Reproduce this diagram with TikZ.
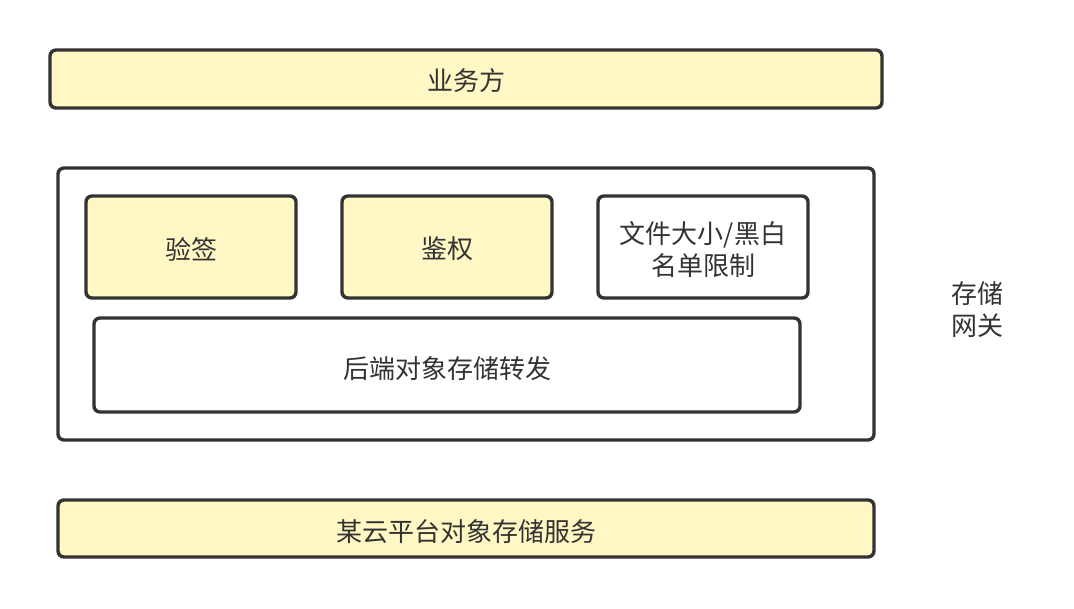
\documentclass[tikz,border=0pt]{standalone}
\usepackage{fontspec}
\newfontfamily\cjk{Noto Sans CJK SC}
\definecolor{boxfill}{HTML}{FFF7C4}
\definecolor{stroke}{HTML}{333333}
\begin{document}
\begin{tikzpicture}[x=1pt,y=-1pt,
  box/.style={draw=stroke,line width=3.4pt,rounded corners=6pt,fill=white},
  ybox/.style={box,fill=boxfill},
  lbl/.style={font=\cjk\fontsize{26}{32}\selectfont,text=stroke,align=center}]
\useasboundingbox (0,0) rectangle (1074,608);
\draw[ybox] (50,50) rectangle (882,108);
\node[lbl] (ywf) at (466,81) {业务方};
\draw[box] (58,168) rectangle (874,440);
\draw[ybox] (86,196) rectangle (296,298);
\node[lbl] (yq) at (191,249) {验签};
\draw[ybox] (342,196) rectangle (552,298);
\node[lbl] (jq) at (447,249) {鉴权};
\draw[box] (598,196) rectangle (808,298);
\node[lbl] (wj) at (703,250) {文件大小/黑白\\名单限制};
\draw[box] (94,318) rectangle (800,412);
\node[lbl] (hd) at (447,369) {后端对象存储转发};
\node[lbl] (gw) at (977,310) {存储\\网关};
\draw[ybox] (58,500) rectangle (874,557);
\node[lbl] (yun) at (466,532) {某云平台对象存储服务};
\end{tikzpicture}
\end{document}
